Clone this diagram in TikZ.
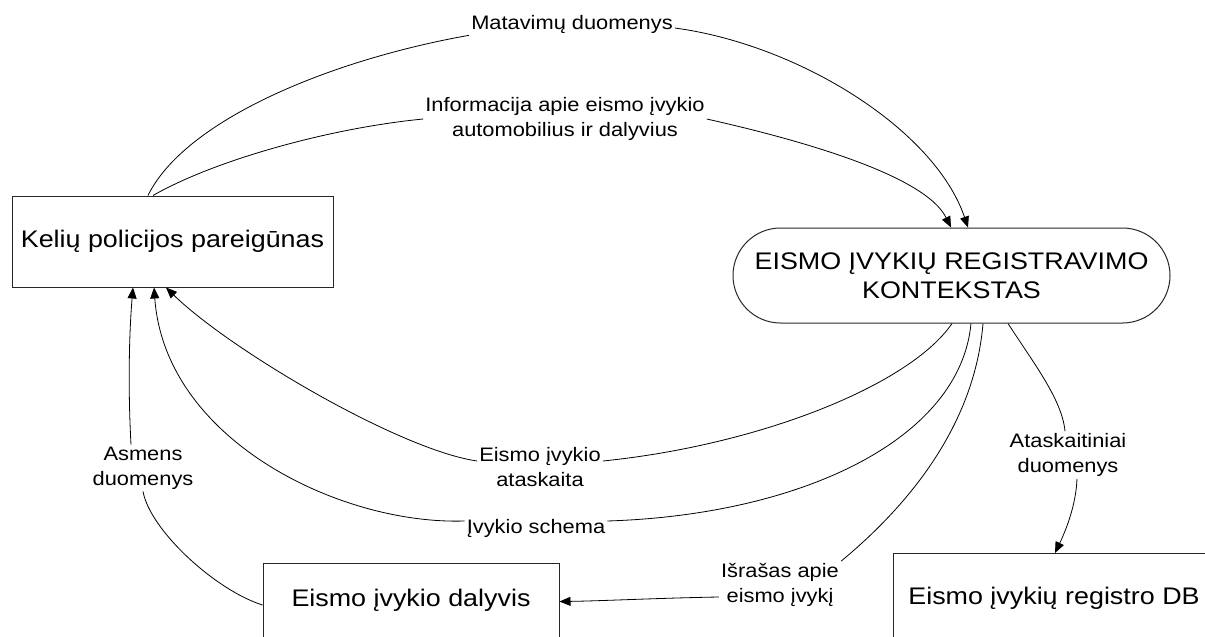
\documentclass[tikz,border=0pt]{standalone}
\usepackage{fontspec}
\setmainfont{Liberation Sans}[FakeStretch=1.12]
\usetikzlibrary{arrows.meta}
\begin{document}
\begin{tikzpicture}[x=1pt,y=-1pt,
  box/.style={draw=black!85, line width=1pt, inner sep=0pt, align=center,
    font=\fontsize{24pt}{29pt}\selectfont},
  lbl/.style={inner sep=2pt, align=center, font=\fontsize{19.5pt}{25pt}\selectfont},
  flow/.style={draw, line width=0.8pt},
  arr/.style={flow, -{Triangle[length=11pt,width=9pt]}}]
\useasboundingbox (0,0) rectangle (1205,637);

% entities and the context process
\node[box, minimum width=321pt, minimum height=91pt] (pol) at (172.5,241.5) {Kelių policijos pareigūnas};
\node[box, rounded corners=47.5pt, minimum width=437pt, minimum height=95pt] (ctx) at (951.5,275.5)
  {EISMO ĮVYKIŲ REGISTRAVIMO\\KONTEKSTAS};
\node[box, minimum width=296pt, minimum height=74pt] (dal) at (411,600) {Eismo įvykio dalyvis};
\node[box, anchor=north, minimum width=322pt, text height=50.75pt, text depth=50pt] (db) at (1054,553)
  {Eismo įvykių registro DB};

% flow labels
\node[lbl] (lm) at (572,24) {Matavimų duomenys};
\node[lbl] (li) at (565,119) {Informacija apie eismo įvykio\\automobilius ir dalyvius};
\node[lbl] (le) at (540,467) {Eismo įvykio\\ataskaita};
\node[lbl] (ls) at (536,528) {Įvykio schema};
\node[lbl] (la) at (143,468) {Asmens\\duomenys};
\node[lbl] (lx) at (780,585) {Išrašas apie\\eismo įvykį};
\node[lbl] (lt) at (1068,455) {Ataskaitiniai\\duomenys};

% Matavimų duomenys
\draw[flow] ([xshift=-24.5pt]pol.north) .. controls (185,120) and (330,60) .. (lm.south west);
\draw[arr] ([yshift=-4pt]lm.east) .. controls (800,45) and (935,130) .. ([xshift=16.5pt]ctx.north);

% Informacija apie eismo įvykio automobilius ir dalyvius
\draw[flow] ([xshift=-19.5pt]pol.north) .. controls (215,160) and (330,128) .. (li.west);
\draw[arr] (li.east) .. controls (800,140) and (925,175) .. ([xshift=-0.5pt]ctx.north);

% Eismo įvykio ataskaita
\draw[flow] ([xshift=0.5pt]ctx.south) .. controls (910,385) and (760,445) .. ([yshift=6pt]le.east);
\draw[arr] ([yshift=6pt]le.west) .. controls (400,450) and (230,350) .. ([xshift=-6.5pt]pol.south);

% Įvykio schema
\draw[flow] ([xshift=19.5pt]ctx.south) .. controls (960,440) and (800,515) .. ([yshift=7pt]ls.east);
\draw[arr] ([yshift=7pt]ls.west) .. controls (340,525) and (165,440) .. ([xshift=-18.5pt]pol.south);

% Asmens duomenys
\draw[flow] ([yshift=-5pt]dal.west) .. controls (215,590) and (150,530) .. ([xshift=0pt]la.south);
\draw[arr] ([xshift=-12pt]la.north) .. controls (128,390) and (129,335) .. ([xshift=-39.5pt]pol.south);

% Išrašas apie eismo įvykį
\draw[flow] ([xshift=31.5pt]ctx.south) .. controls (975,420) and (915,500) .. (lx.north east);
\draw[arr] ([yshift=-12pt]lx.west) .. controls (660,598) and (600,601) .. ([yshift=-1.5pt]dal.east);

% Ataskaitiniai duomenys
\draw[flow] ([xshift=56.5pt]ctx.south) .. controls (1035,365) and (1062,400) .. ([xshift=-3pt]lt.north);
\draw[arr] ([xshift=9pt]lt.south) .. controls (1076,505) and (1066,530) .. ([xshift=1pt]db.north);
\end{tikzpicture}
\end{document}
